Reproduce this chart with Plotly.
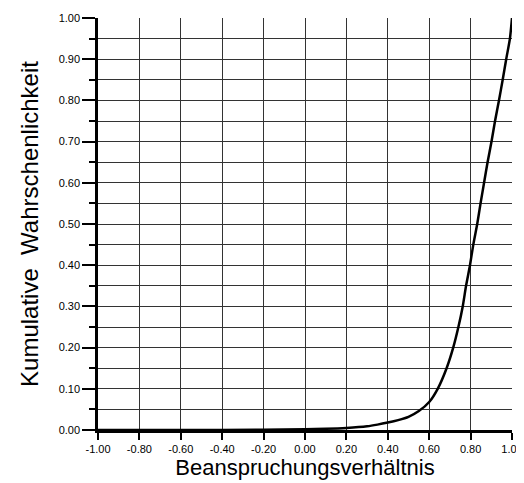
import plotly.graph_objects as go

x_vals = [-1.0, -0.6, -0.2, 0.0, 0.1, 0.2, 0.3, 0.35, 0.4, 0.45, 0.5, 0.55, 0.6,
          0.641, 0.684, 0.716, 0.741, 0.762, 0.778, 0.797, 0.813, 0.832, 0.848, 0.865,
          0.882, 0.901, 0.918, 0.937, 0.955, 0.972, 0.99, 1.0]
y_vals = [0.0, 0.0, 0.0005, 0.002, 0.003, 0.005, 0.009, 0.013, 0.018, 0.024, 0.032, 0.046, 0.068,
          0.10, 0.15, 0.20, 0.25, 0.30, 0.35, 0.40, 0.45, 0.50, 0.55, 0.60,
          0.65, 0.70, 0.75, 0.80, 0.85, 0.90, 0.95, 1.0]

x_tick_vals = [-1.0, -0.8, -0.6, -0.4, -0.2, 0.0, 0.2, 0.4, 0.6, 0.8, 1.0]
x_tick_labels = ["-1.00", "-0.80", "-0.60", "-0.40", "-0.20", "0.00",
                 "0.20", "0.40", "0.60", "0.80", "1.00"]

x_title = "Beanspruchungsverhältnis"
y_title = "Kumulative \u00a0Wahrschenlichkeit"

fig = go.Figure()
fig.add_trace(go.Scatter(x=x_vals, y=y_vals, mode="lines",
                         line=dict(color="black", width=2.5, shape="spline", smoothing=0.6),
                         showlegend=False, hoverinfo="skip", cliponaxis=False))

font_family = "Liberation Sans, Arial, sans-serif"
# page body has an 8px default margin, so the figure is drawn 8px in from the top-left
fig.update_layout(
    width=524, height=475,
    margin=dict(l=90, r=20, t=10, b=53),
    paper_bgcolor="white", plot_bgcolor="white",
    font=dict(family=font_family, color="black", size=11),
)
fig.update_xaxes(
    range=[-1, 1], tickmode="array", tickvals=x_tick_vals, ticktext=x_tick_labels,
    showgrid=True, gridcolor="#333", gridwidth=1,
    showline=True, linecolor="black", linewidth=2.5,
    ticks="outside", ticklen=7, tickwidth=1.5, tickcolor="black",
    zeroline=False, automargin=False,
    title=dict(text=x_title, font=dict(size=22, family=font_family), standoff=2),
    tickfont=dict(size=11),
)
fig.update_yaxes(
    range=[0, 1], dtick=0.1, tick0=0, tickformat=".2f",
    showgrid=True, gridcolor="#333", gridwidth=1,
    showline=True, linecolor="black", linewidth=2.5,
    ticks="outside", ticklen=13, tickwidth=1.5, tickcolor="black",
    zeroline=False, automargin=False,
    minor=dict(dtick=0.05, ticks="outside", ticklen=6, tickwidth=1.5, tickcolor="black",
               showgrid=True, gridcolor="#333", gridwidth=1),
    title=dict(text=y_title, font=dict(size=24, family=font_family), standoff=14),
    tickfont=dict(size=11),
)
fig.write_html("out.html")
